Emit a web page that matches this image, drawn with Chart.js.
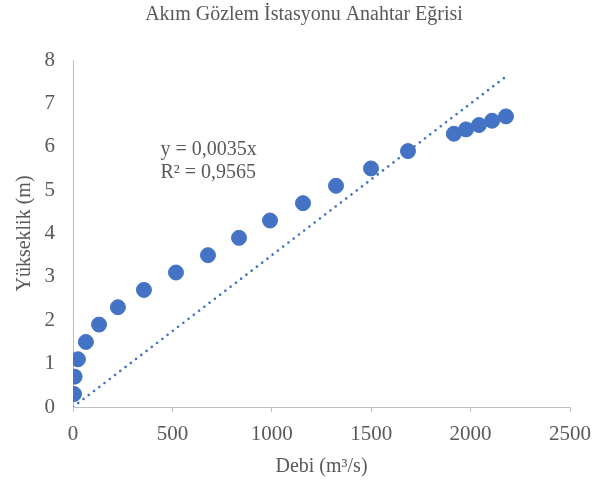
<!DOCTYPE html>
<html>
<head>
<meta charset="utf-8">
<script src="https://cdn.jsdelivr.net/npm/chart.js@4"></script>
<style>
  html, body { margin: 0; padding: 0; background: #fff; }
  #wrap { width: 608px; height: 484px; }
</style>
</head>
<body>
<div id="wrap"><canvas id="chart" width="608" height="484"></canvas></div>
<script>
// Debi (m3/s) ve yükseklik (m) ölçümleri
const debi = [5, 8, 25, 65, 131, 226, 357, 518, 679, 835, 991, 1157, 1323, 1499, 1685, 1916, 1977, 2042, 2108, 2178];
const yukseklik = [0.3, 0.7, 1.1, 1.5, 1.9, 2.3, 2.7, 3.1, 3.5, 3.9, 4.3, 4.7, 5.1, 5.5, 5.9, 6.3, 6.4, 6.5, 6.6, 6.7];

// Doğrusal eğilim çizgisi uç noktaları (y = 0,0035x)
const trendX = [0, 2178];
const trendY = [0, 7.62];
const trendLabels = ['y = 0,0035x', 'R² = 0,9565'];

const xTicks = [0, 500, 1000, 1500, 2000, 2500];
const yTicks = [0, 1, 2, 3, 4, 5, 6, 7, 8];

const textColor = '#595959';
const axisColor = '#BFBFBF';
const serif = "'Liberation Serif', 'Times New Roman', serif";

// Denklem metnini grafik üzerine yazar
const equationPlugin = {
    id: 'equation',
    afterDatasetsDraw(chart) {
        const {ctx, scales: {x, y}} = chart;
        ctx.save();
        ctx.fillStyle = textColor;
        ctx.font = '20px ' + serif;
        ctx.textAlign = 'left';
        ctx.textBaseline = 'middle';
        const px = x.getPixelForValue(440);
        const py = y.getPixelForValue(5.92);
        ctx.fillText(trendLabels[0], px, py);
        ctx.fillText(trendLabels[1], px, py + 23);
        ctx.restore();
    }
};

const ctx = document.getElementById('chart');
new Chart(ctx, {
    type: 'scatter',
    data: {
        datasets: [
            {
                label: 'Yükseklik',
                data: debi.map((v, i) => ({x: v, y: yukseklik[i]})),
                backgroundColor: '#4472C4',
                borderColor: '#4472C4',
                pointRadius: 7.5,
                pointHoverRadius: 7.5,
                order: 1
            },
            {
                label: 'Doğrusal',
                type: 'line',
                data: trendX.map((v, i) => ({x: v, y: trendY[i]})),
                borderColor: '#4472C4',
                borderWidth: 2.6,
                borderDash: [0.01, 6.6],
                borderCapStyle: 'round',
                pointRadius: 0,
                fill: false,
                order: 2
            }
        ]
    },
    options: {
        responsive: false,
        animation: false,
        layout: { padding: 0 },
        plugins: {
            legend: { display: false },
            tooltip: { enabled: false },
            title: {
                display: true,
                text: 'Akım Gözlem İstasyonu Anahtar Eğrisi',
                color: textColor,
                font: { family: serif, size: 20, weight: 'normal' },
                padding: { top: 3, bottom: 33 }
            }
        },
        scales: {
            x: {
                type: 'linear',
                min: 0,
                max: 2500,
                afterBuildTicks: (scale) => { scale.ticks = xTicks.map(v => ({value: v})); },
                afterFit: (scale) => { scale.height = 77; },
                grid: { display: true, drawOnChartArea: false, drawTicks: true, tickLength: 5, color: axisColor },
                border: { display: true, color: axisColor, width: 1 },
                ticks: {
                    color: textColor,
                    font: { family: serif, size: 21 },
                    padding: 10,
                    callback: (v) => String(v)
                },
                title: {
                    display: true,
                    text: 'Debi (m³/s)',
                    color: textColor,
                    font: { family: serif, size: 20 },
                    padding: { top: 0, bottom: 5 }
                }
            },
            y: {
                type: 'linear',
                min: 0,
                max: 8,
                afterBuildTicks: (scale) => { scale.ticks = yTicks.map(v => ({value: v})); },
                afterFit: (scale) => { scale.width = 73; },
                grid: { display: false, drawTicks: false },
                border: { display: true, color: axisColor, width: 1 },
                ticks: { color: textColor, font: { family: serif, size: 21 }, padding: 18 },
                title: {
                    display: true,
                    text: 'Yükseklik (m)',
                    color: textColor,
                    font: { family: serif, size: 20 },
                    padding: { top: 13, bottom: 0 }
                }
            },
            // sağ boşluk için görünmez eksen
            yRight: {
                type: 'linear',
                position: 'right',
                display: true,
                afterFit: (scale) => { scale.width = 38; },
                grid: { display: false },
                border: { display: false },
                ticks: { display: false }
            }
        }
    },
    plugins: [equationPlugin]
});
</script>
</body>
</html>
